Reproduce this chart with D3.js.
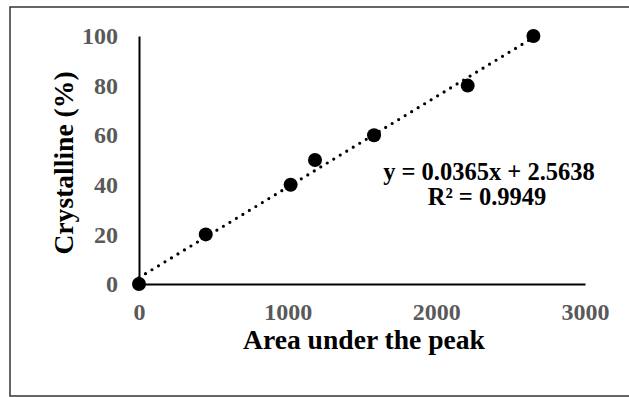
<!DOCTYPE html>
<html>
<head>
<meta charset="utf-8">
<script src="https://cdn.jsdelivr.net/npm/d3@7"></script>
<style>
  html, body { margin: 0; padding: 0; background: #fff; }
  svg { display: block; font-family: "Liberation Serif", "Times New Roman", serif; }
</style>
</head>
<body>
<svg id="chart" width="629" height="397"></svg>
<script>
// Calibration data: integrated peak area vs. crystalline fraction
const areaValues = [0, 449, 1020, 1184, 1581, 2211, 2653];
const crystallineValues = [0, 20, 40, 50, 60, 80, 100];
const xTicks = [0, 1000, 2000, 3000];
const yTicks = [0, 20, 40, 60, 80, 100];
const fitSlope = 0.0365;
const fitIntercept = 2.5638;
const fitR2 = "0.9949";

const svg = d3.select("#chart");

// Frame around the chart area
svg.append("rect")
  .attr("x", 10).attr("y", 7)
  .attr("width", 640).attr("height", 389)
  .attr("fill", "#fff")
  .attr("stroke", "#333")
  .attr("stroke-width", 1.5);

const x = d3.scaleLinear().domain([0, 3000]).range([139, 585]);
const y = d3.scaleLinear().domain([0, 100]).range([284, 36]);

const tickColor = "#595959";
const serif = "'Liberation Serif', 'Times New Roman', serif";

// X axis
const gx = svg.append("g")
  .attr("transform", `translate(0,${y(0)})`)
  .call(d3.axisBottom(x).tickValues(xTicks).tickSize(0).tickSizeOuter(0).tickFormat(d3.format("d")));
gx.select(".domain").attr("stroke", "#000").attr("stroke-width", 2);
gx.selectAll("text")
  .attr("y", 36).attr("dy", 0)
  .attr("fill", tickColor)
  .style("font-size", "24px").style("font-weight", "bold")
  .style("font-family", serif);

// Y axis
const gy = svg.append("g")
  .attr("transform", `translate(${x(0)},0)`)
  .call(d3.axisLeft(y).tickValues(yTicks).tickSize(0).tickSizeOuter(0).tickFormat(d3.format("d")));
gy.select(".domain").attr("stroke", "#000").attr("stroke-width", 2);
gy.selectAll("text")
  .attr("x", -21).attr("dy", "0.32em")
  .attr("fill", tickColor)
  .style("font-size", "24px").style("font-weight", "bold")
  .style("font-family", serif);

// Linear trendline over the data range
const xMax = d3.max(areaValues);
const fitLine = d3.line().x(d => x(d)).y(d => y(fitSlope * d + fitIntercept));
svg.append("path")
  .datum([0, xMax])
  .attr("d", fitLine)
  .attr("fill", "none")
  .attr("stroke", "#000")
  .attr("stroke-width", 3.2)
  .attr("stroke-linecap", "round")
  .attr("stroke-dasharray", "0 7.6");

// Data markers
svg.append("g").selectAll("circle")
  .data(areaValues.map((a, i) => ({ a, c: crystallineValues[i] })))
  .join("circle")
  .attr("cx", d => x(d.a))
  .attr("cy", d => y(d.c))
  .attr("r", 7)
  .attr("fill", "#000");

// Fit equation, two lines
const eqStyle = sel => sel
  .attr("text-anchor", "middle")
  .attr("fill", "#000")
  .style("font-size", "24.5px").style("font-weight", "bold");
svg.append("text").call(eqStyle)
  .attr("x", 489).attr("y", 180)
  .text(`y = ${fitSlope}x + ${fitIntercept}`);
svg.append("text").call(eqStyle)
  .attr("x", 487).attr("y", 205)
  .text(`R² = ${fitR2}`);

// Axis titles
svg.append("text")
  .attr("x", 364).attr("y", 349)
  .attr("text-anchor", "middle")
  .attr("fill", "#000")
  .style("font-size", "27.6px").style("font-weight", "bold")
  .text("Area under the peak");

svg.append("text")
  .attr("transform", "translate(73,163) rotate(-90)")
  .attr("text-anchor", "middle")
  .attr("fill", "#000")
  .style("font-size", "27.6px").style("font-weight", "bold")
  .text("Crystalline (%)");
</script>
</body>
</html>
